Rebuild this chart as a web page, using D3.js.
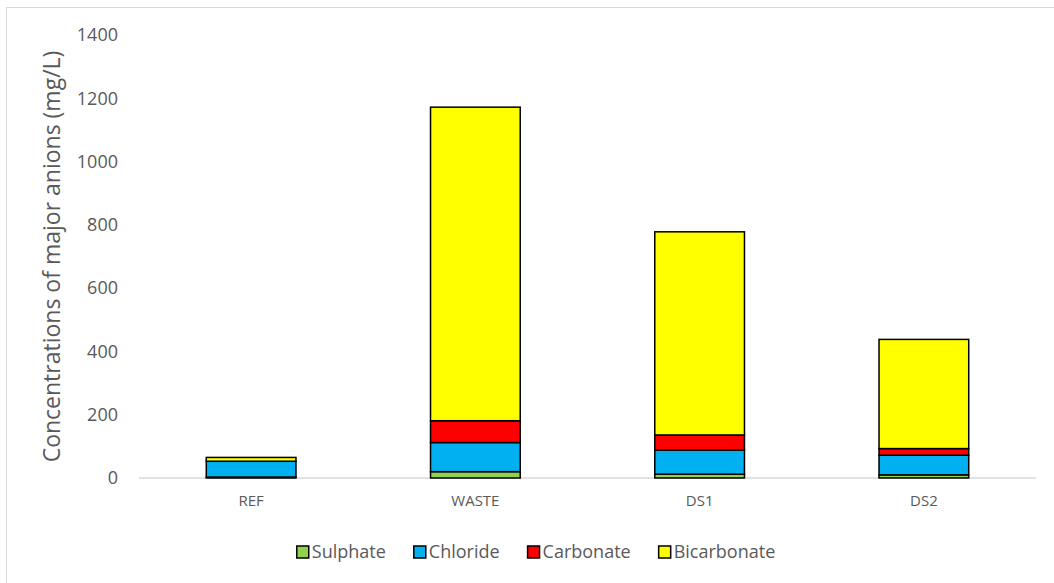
<!DOCTYPE html>
<html>
<head>
<meta charset="utf-8">
<script src="https://cdn.jsdelivr.net/npm/d3@7"></script>
<style>
  body { margin: 0; background: #fff; }
  text { font-family: "Open Sans", sans-serif; fill: #595959; }
</style>
</head>
<body>
<svg></svg>
<script>
let categories = ["REF", "WASTE", "DS1", "DS2"]
let seriesNames = ["Sulphate", "Chloride", "Carbonate", "Bicarbonate"]
let sulphate = [3, 20, 12, 10]
let chloride = [50, 92, 76, 62]
let carbonate = [0, 69, 48, 21]
let bicarbonate = [12, 991, 642, 345]
let yTicks = [0, 200, 400, 600, 800, 1000, 1200, 1400]

let colors = ["#92d050", "#00b0f0", "#ff0000", "#ffff00"]

let svgWidth = 1054,
    svgHeight = 583

let svg = d3.select('svg')
    .attr('width', svgWidth)
    .attr('height', svgHeight)

// chart border (only left and top visible in the picture)
svg.append('rect')
    .attr('x', 6.5).attr('y', 7.5)
    .attr('width', 1100).attr('height', 700)
    .attr('fill', 'none')
    .attr('stroke', '#d9d9d9')

let plot = {left: 139, right: 1036, top: 35, bottom: 478}

// build rows for the stack
let rows = categories.map((c, i) => ({
    cat: c,
    Sulphate: sulphate[i],
    Chloride: chloride[i],
    Carbonate: carbonate[i],
    Bicarbonate: bicarbonate[i]
}))

let x = d3.scaleBand()
    .domain(categories)
    .range([plot.left, plot.right])
    .paddingInner(0.6)
    .paddingOuter(0.3)

let y = d3.scaleLinear()
    .domain([0, 1400])
    .range([plot.bottom, plot.top])

let color = d3.scaleOrdinal().domain(seriesNames).range(colors)

let stack = d3.stack().keys(seriesNames)(rows)

// y axis labels
let yAxis = svg.append('g')
    .attr('transform', `translate(${plot.left - 21}, 0)`)
    .call(d3.axisLeft(y).tickValues(yTicks).tickFormat(d3.format('d')).tickSize(0).tickPadding(0))
yAxis.select('.domain').remove()
yAxis.selectAll('text')
    .style('font-size', '18px')
    .attr('fill', '#595959')

// baseline
svg.append('line')
    .attr('x1', plot.left).attr('x2', plot.right)
    .attr('y1', y(0)).attr('y2', y(0))
    .attr('stroke', '#d9d9d9')
    .attr('stroke-width', 1.5)

// stacked bars
svg.append('g')
    .selectAll('g')
    .data(stack)
    .enter()
    .append('g')
    .attr('fill', d => color(d.key))
    .selectAll('rect')
    .data(d => d)
    .enter()
    .append('rect')
    .attr('x', d => x(d.data.cat))
    .attr('width', x.bandwidth())
    .attr('y', d => y(d[1]))
    .attr('height', d => y(d[0]) - y(d[1]))
    .attr('stroke', '#000')
    .attr('stroke-width', 1.5)

// x axis labels
let xAxis = svg.append('g')
    .attr('transform', `translate(0, ${plot.bottom + 17})`)
    .call(d3.axisBottom(x).tickSize(0).tickPadding(0))
xAxis.select('.domain').remove()
xAxis.selectAll('text')
    .style('font-size', '15px')
    .attr('fill', '#595959')

// y axis title
svg.append('text')
    .attr('transform', `translate(52, ${(plot.top + plot.bottom) / 2}) rotate(-90)`)
    .attr('text-anchor', 'middle')
    .attr('dy', '0.35em')
    .style('font-size', '23px')
    .text('Concentrations of major anions (mg/L)')

// legend
let legend = svg.append('g')
let lx = 0
seriesNames.forEach(name => {
    let g = legend.append('g')
    g.append('rect')
        .attr('x', 0).attr('y', -6)
        .attr('width', 12).attr('height', 12)
        .attr('fill', color(name))
        .attr('stroke', '#000')
        .attr('stroke-width', 1.5)
    let t = g.append('text')
        .attr('x', 15)
        .attr('dy', '0.35em')
        .style('font-size', '18px')
        .text(name)
    let w = 15 + t.node().getComputedTextLength()
    g.attr('transform', `translate(${lx}, 0)`)
    lx += w + 28
})
let legendWidth = lx - 28
legend.attr('transform', `translate(${536 - legendWidth / 2}, 552)`)
</script>
</body>
</html>
